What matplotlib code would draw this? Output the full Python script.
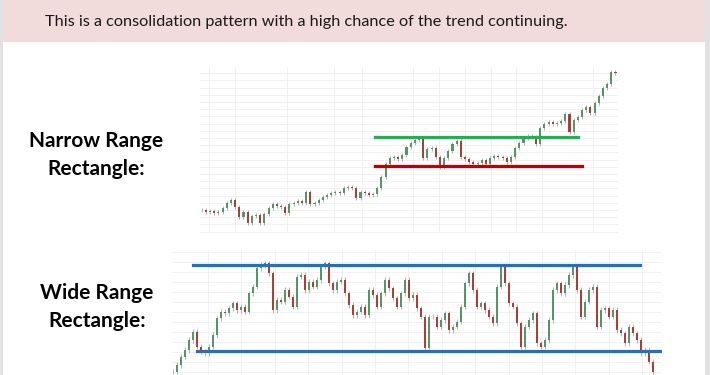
import numpy as np
import matplotlib
from matplotlib import pyplot as plt
from matplotlib.patches import Rectangle

matplotlib.rcParams.update({'font.family': ['Lato', 'DejaVu Sans']})

header_text = 'This is a consolidation pattern with a high chance of the trend continuing.'
top_label = 'Narrow Range\nRectangle:'
bottom_label = 'Wide Range\nRectangle:'

# closing prices
top_close = [70, 65, 68, 62, 65, 75, 90, 100, 80, 50,
             65, 30, 52, 55, 32, 58, 75, 88, 82, 80,
             62, 88, 92, 98, 92, 125, 88, 92, 100, 108,
             115, 120, 124, 120, 135, 140, 135, 105, 125, 122,
             115, 118, 135, 170, 208, 225, 230, 222, 235, 258,
             270, 280, 282, 225, 252, 255, 230, 200, 225, 248,
             268, 278, 230, 222, 215, 208, 210, 220, 208, 225,
             232, 228, 225, 215, 230, 255, 270, 285, 292, 288,
             268, 315, 328, 335, 328, 332, 338, 358, 305, 340,
             348, 370, 378, 360, 392, 412, 435, 448, 485, 480]
top_resistance = 290
top_support = 202

# closing prices
bottom_close = [25, 45, 70, 90, 120, 145, 100, 85, 80, 100,
                135, 185, 205, 200, 215, 230, 210, 220, 205, 260,
                280, 335, 345, 350, 320, 210, 240, 235, 270, 250,
                220, 310, 315, 270, 295, 280, 300, 340, 350, 290,
                270, 295, 300, 260, 225, 195, 205, 220, 195, 270,
                255, 220, 260, 300, 275, 245, 220, 260, 300, 245,
                255, 215, 190, 95, 190, 190, 160, 180, 200, 150,
                160, 175, 220, 290, 320, 270, 220, 230, 210, 190,
                170, 280, 340, 290, 230, 220, 170, 100, 160, 180,
                200, 110, 100, 120, 180, 270, 290, 260, 285, 315,
                340, 270, 190, 235, 270, 280, 160, 210, 215, 190,
                210, 150, 140, 110, 160, 140, 120, 80, 90, 55, 25]
bottom_resistance = 345
bottom_support = 88

W, H = 710, 375


def px_axes(fig, x0, y0, x1, y1):
    # pixel box (top-left origin) -> figure fraction
    return fig.add_axes([x0 / W, 1 - y1 / H, (x1 - x0) / W, (y1 - y0) / H])


def candles(ax, close, wick):
    close = np.array(close, dtype=float)
    opens = np.r_[close[0], close[:-1]]
    x = np.arange(len(close))
    up = close >= opens
    colors = np.where(up, '#5a9369', '#a8403a')
    lo = np.minimum(opens, close) - wick
    hi = np.maximum(opens, close) + wick
    ax.vlines(x, lo, hi, color='#a5a5a5', lw=0.6, zorder=2)
    ax.bar(x, close - opens, bottom=opens, width=0.5, color=colors, zorder=3)


def clean(ax):
    for s in ax.spines.values():
        s.set_visible(False)
    ax.tick_params(length=0, labelbottom=False, labelleft=False)
    ax.grid(True, color='#efefef', lw=0.6)
    ax.set_axisbelow(True)
    ax.patch.set_alpha(0)


fig = plt.figure(figsize=(7.1, 3.75), dpi=100)
fig.patch.set_facecolor('#e2e2e2')
fig.add_artist(Rectangle((3 / W, 0), 702 / W, 1, transform=fig.transFigure,
                         facecolor='white', edgecolor='none', zorder=-10))
fig.add_artist(Rectangle((3 / W, 1 - 42 / H), 702 / W, 42 / H, transform=fig.transFigure,
                         facecolor='#f2dbdb', edgecolor='none', zorder=-9))
fig.text(45 / W, 1 - 22 / H, header_text, fontsize=11.7, color='#1a1a1a', va='center', ha='left')

fig.text(96 / W, 1 - 155 / H, top_label, fontsize=15, fontweight='bold', ha='center', va='center',
         linespacing=1.45)
fig.text(97 / W, 1 - 307 / H, bottom_label, fontsize=15, fontweight='bold', ha='center', va='center',
         linespacing=1.45)

# narrow range rectangle
ax1 = px_axes(fig, 200, 67, 618, 233)
candles(ax1, top_close, 6)
ax1.set_xlim(-0.4, 99.6)
ax1.set_ylim(1, 499)
ax1.set_xticks([1.75, 8, 20.4, 31.6, 38.4, 50.5, 56.7, 62.9, 69.3, 75.3, 81.5, 93.6])
ax1.set_yticks(np.arange(5, 500, 21.6))
clean(ax1)
ax1.axhline(top_resistance, xmin=0.419, xmax=0.904, color='#1db34f', lw=2.3, zorder=4)
ax1.axhline(top_support, xmin=0.419, xmax=0.914, color='#c00000', lw=2.3, zorder=4)

# wide range rectangle
ax2 = px_axes(fig, 172, 250, 662, 375)
candles(ax2, bottom_close, 8)
n = len(bottom_close)
step = 480 / (n - 1)
ax2.set_xlim((172 - 173.3) / step, (662 - 173.3) / step)
ax2.set_ylim(15, 390)
ax2.set_xticks((np.arange(208, 660, 33.4) - 173.3) / step)
ax2.set_yticks(np.arange(25, 390, 30))
clean(ax2)
ax2.axhline(bottom_resistance, xmin=0.043, xmax=0.955, color='#1f72bf', lw=2.3, zorder=4)
ax2.axhline(bottom_support, xmin=0.051, xmax=0.996, color='#1f72bf', lw=2.3, zorder=4)

plt.savefig('out.png', dpi=100)
